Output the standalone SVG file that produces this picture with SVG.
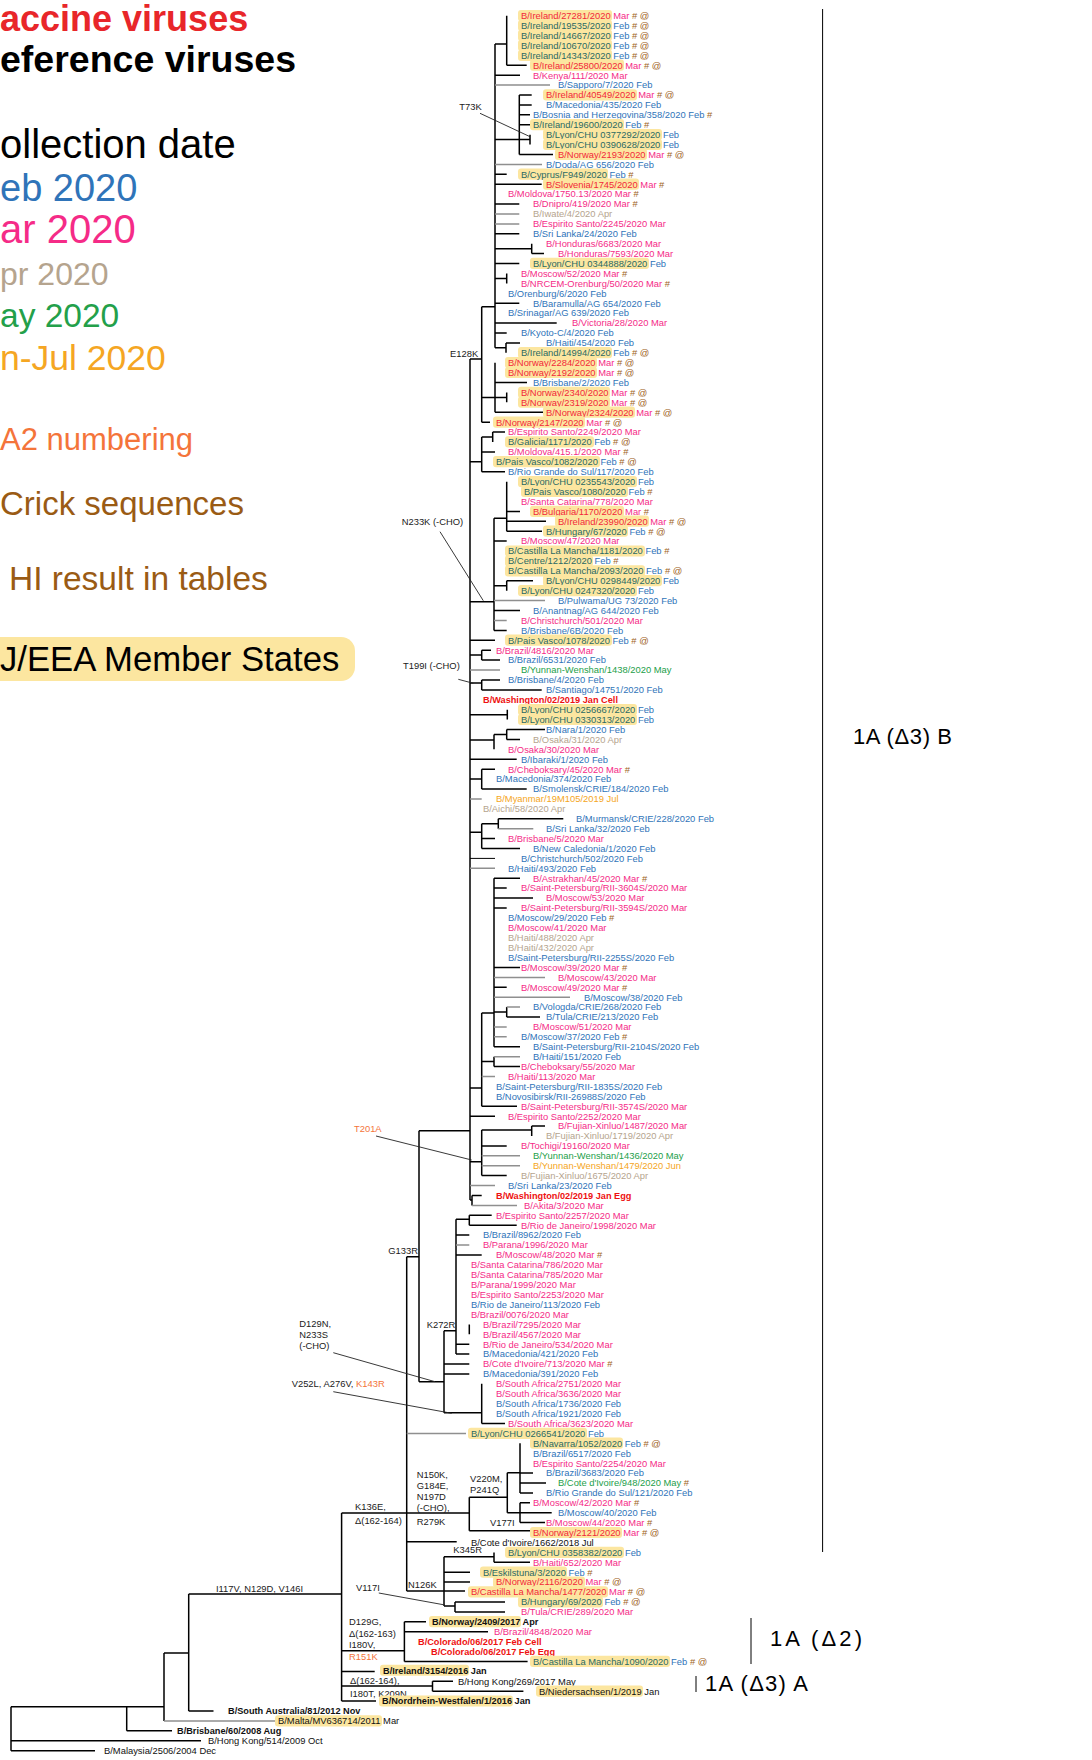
<svg xmlns="http://www.w3.org/2000/svg" width="1092" height="1760" viewBox="0 0 1092 1760">
<style>
text{font-family:"Liberation Sans",Arial,sans-serif}
.l{font-size:9.4px}
.b{font-size:9.2px;font-weight:bold}
.a{font-size:9.4px;fill:#1a1a1a}
.fe{fill:#2f74b9}.mr{fill:#f52b87}.ap{fill:#b5a48e}.my{fill:#23a04a}.jn{fill:#f5a623}
.hf{fill:#2b6a64}.hm{fill:#f2283a}.mk{fill:#a0621c}.rd{fill:#ee1111}.bk{fill:#111}
.or{fill:#f4743a}
.hl{fill:#fce6a0}
.k{fill:none;stroke:#000;stroke-width:1.5}
.g{fill:none;stroke:#8f8f8f;stroke-width:1.5}
.t{fill:none;stroke:#000;stroke-width:1}
.p{fill:none;stroke:#222;stroke-width:0.9}
.cl{font-size:22px;fill:#000}
</style>
<rect width="1092" height="1760" fill="#fff"/>
<g id="legend">
<text x="0" y="31" fill="#e8262a" font-weight="bold" font-size="36">accine viruses</text>
<text x="0" y="72" fill="#000" font-weight="bold" font-size="37.5">eference viruses</text>
<text x="0" y="158" fill="#000" font-size="40">ollection date</text>
<text x="0" y="201" fill="#2f74b9" font-size="38">eb 2020</text>
<text x="0" y="243" fill="#f52b87" font-size="40">ar 2020</text>
<text x="0" y="285" fill="#b5a48e" font-size="32">pr 2020</text>
<text x="0" y="327" fill="#23a04a" font-size="33.5">ay 2020</text>
<text x="0" y="370" fill="#f5a623" font-size="35.5">n-Jul 2020</text>
<text x="0" y="450" fill="#f4743a" font-size="31">A2 numbering</text>
<text x="0" y="515" fill="#9a5b14" font-size="33">Crick sequences</text>
<text x="9" y="590" fill="#9a5b14" font-size="33.5">HI result in tables</text>
<rect x="-14" y="637" width="369" height="44" rx="14" fill="#fce6a0"/>
<text x="0" y="671" fill="#000" font-size="34.7">J/EEA Member States</text>
</g>
<g id="clades">
<path class="t" d="M822.6 9V1552M751 1618V1664M696 1676V1692"/>
<text class="cl" x="853" y="744" textLength="99" lengthAdjust="spacing">1A (Δ3) B</text>
<text class="cl" x="770" y="1646" font-size="23" textLength="92" lengthAdjust="spacing">1A (Δ2)</text>
<text class="cl" x="705" y="1691" textLength="103" lengthAdjust="spacing">1A (Δ3) A</text>
</g>
<g id="connectors">
<path class="k" d="M506.7 15.7V65.3M506.7 65.3H526.7M495 44H506.7M495 44V347.8M495 75.2H520M519.3 95V154.5M495 139.6H530M519.3 95H531.7M519.3 104.9H531.7M519.3 114.8H530M519.3 124.8H530M530 134.7V144.6M519.3 154.5H553M495 174.3H506.7M495 184.2H541.7M495 204.1H519.3M495 233.8H519.3M495 248.7H531.7M531.7 243.7V253.6M531.7 253.6H544M495 263.5H519.3M495 278.4H506.7M506.7 273.5V283.4M495 303.2H519.3M495 323H556.7M495 332.9H506.7M495 347.8H506M506 342.9V352.8M506 342.9H520
M481.7 306.7V422.2M481.7 306.7H495M481.7 422.2H490M470 359H481.7
M495 362.7V412.3M481.7 397.4H506.7M495 382.5H527M506.7 392.4V402.3M495 412.3H543
M481.7 437V471.7M470 461.8H481.7M481.7 437H492.7M492.7 432.1V442M492.7 432.1H505M481.7 451.9H495M481.7 471.7H505
M494 518.3V630.4M470 601.7H494M494 518.3H506.7M506.7 481.7V531.2M506.7 511.4H520M506.7 521.3H546M506.7 531.2H542M494 541.1H506.7M494 585.7H506.7M506.7 580.8V590.7M506.7 580.8H533M494 610.5H520M494 630.4H506.7
M470 640.3H495M470 655H481.7M481.7 650.2V660.1M481.7 650.2H491M481.7 660.1H500
M470 683H481.7M481.7 679.9V689.9M481.7 679.9H500M481.7 689.9H541.7
M470 714.7H507.3M507.3 709.7V719.6
M470 740H494M494 734.5V749.3M494 734.5H506.7M506.7 729.5V739.4M506.7 729.5H545M506.7 739.4H520
M470 759.3H516.7M470 779.1H481.7M481.7 769.2V789M481.7 769.2H495M481.7 789H526.7
M470 832.3H481.7M481.7 823.7V848.5M481.7 823.7H498.3M498.3 818.7V828.7M498.3 818.7H563.3M481.7 838.6H495M481.7 848.5H520
M494 878.2V1046.8M494 878.2H520M494 888.1H506.7M494 898.1H533M494 908H506.7M494 967.4H520M494 987.3H506.7M494 1012H506.7M506.7 1007.1V1017M506.7 1017H540M494 1046.8H520
M481.7 1013V1106.2M481.7 1013H494M470 1088H481.7M481.7 1061.6H494M494 1056.7V1066.6M494 1066.6H520M481.7 1106.2H517
M470 1116.2H495M470 1161.7H481.7M481.7 1130V1175.6M481.7 1130H531.7M531.7 1126.1V1136M531.7 1126.1H545M481.7 1145.9H506.7M481.7 1175.6H506.7
M470 1200H472M472 1195.5V1205.4M472 1195.5H481.7
M470 359V1200M419 1130.7H470
M419 1130.7V1381.7M406.7 1256.7H419M444 1330.7V1412.7M419 1381.7H444M456 1219.3V1354.1M444 1330.7H456M456 1219.3H469.3M469.3 1215.3V1225.2M469.3 1215.3H491.7M469.3 1225.2H516.7M456 1235.1H469.3M456 1255H481.7M469.3 1324.4V1334.3M456 1344.2H469.3M456 1354.1H469.3M444 1364H469.3M444 1373.9H469.3M444 1412.7H481.7M481.7 1383.8V1423.5M481.7 1423.5H505
M406.7 1256.7V1591M341.6 1513H469.3M469.3 1497.3V1530.7M469.3 1497.3H507.3M507.3 1472.7V1512.7M507.3 1472.7H520M520 1443.3V1492.9M520 1473.1H533M520 1483H546M520 1492.9H533M507.3 1512.7H520M520 1502.8V1522.6M520 1502.8H530M520 1512.7H551.7M520 1522.6H545M469.3 1530.7H530M406.7 1541.7H456.7M406.7 1591H465M444 1556.7V1606M444 1556.7H494M494 1552.4V1562.3M494 1562.3H530M444 1572.2H470M444 1582.1H470M444 1606H455M455 1602V1611.9M455 1602H505M455 1611.9H505
M341.6 1513V1701.1M188.7 1594H341.6M341.6 1650.7H404.4M404.4 1621.8V1661.4M404.4 1621.8H426M404.4 1631.7H488M404.4 1661.4H527.6M341.6 1671.4H374.7M341.6 1686H432.5M432.5 1681.3V1691.2M432.5 1681.3H453M432.5 1691.2H523.4M341.6 1701.1H376
M188.7 1594V1711M164 1653H188.7M188.7 1711H213.5M164 1653V1720.9M126.7 1706.7V1730.8M126.7 1730.8H172M11 1706.7H164M11 1706.7V1750.7M11 1740.8H201M11 1750.7H95"/>
<path class="g" d="M495 85.1H550M495 164.4H542M495 214H519.3M495 223.9H519.3M494 600.6H545M494 620.5H506.7M470 670H500M470 798.9H481.7M498.3 828.7H533.3M470 868.3H495M494 977.4H545M494 997.2H570M506.7 1007.1H520M494 1026.9H506.7M494 1036.8H506.7M494 1056.7H520M481.7 1076.5H495M481.7 1155.8H520M481.7 1165.7H520M470 1185.6H495M472 1205.4H517M456 1245H469.3M406.7 1433.4H466M164 1720.9H275.5"/>
<path class="t" d="M470 858.4H495"/>
<path class="p" d="M480 113.3L530 136.7M440 531.7L483.3 600.7M458.3 679.3L473.3 683.3M376 1136L471.7 1160M333.3 1352.7L435 1381.7M333.3 1391.7L451.7 1413.3M378.8 1593L445 1605"/>
</g>
<g id="annotations">
<text class="a" x="459.3" y="110">T73K</text>
<text class="a" x="450" y="356.6">E128K</text>
<text class="a" x="401.7" y="525">N233K (-CHO)</text>
<text class="a" x="403" y="669.3">T199I (-CHO)</text>
<text class="a or" x="354" y="1131.6">T201A</text>
<text class="a" x="388.3" y="1254">G133R</text>
<text class="a" x="426.7" y="1328">K272R</text>
<text class="a" x="299.3" y="1326.6">D129N,</text>
<text class="a" x="299.3" y="1338.3">N233S</text>
<text class="a" x="299.3" y="1349.3">(-CHO)</text>
<text class="a" x="291.7" y="1386.6">V252L, A276V, <tspan class="or">K143R</tspan></text>
<text class="a" x="416.7" y="1478.3">N150K,</text>
<text class="a" x="416.7" y="1489.3">G184E,</text>
<text class="a" x="416.7" y="1500">N197D</text>
<text class="a" x="416.7" y="1511.3">(-CHO),</text>
<text class="a" x="416.7" y="1525">R279K</text>
<text class="a" x="470" y="1482.3">V220M,</text>
<text class="a" x="470" y="1493.3">P241Q</text>
<text class="a" x="490" y="1526">V177I</text>
<text class="a" x="453.3" y="1553.3">K345R</text>
<text class="a" x="408" y="1588">N126K</text>
<text class="a" x="356" y="1591">V117I</text>
<text class="a" x="216" y="1592">I117V, N129D, V146I</text>
<text class="a" x="355" y="1510">K136E,</text>
<text class="a" x="355" y="1524.3">Δ(162-164)</text>
<text class="a" x="349" y="1625.3">D129G,</text>
<text class="a" x="349" y="1637.3">Δ(162-163)</text>
<text class="a" x="349" y="1648">I180V,</text>
<text class="a or" x="349" y="1660.3">R151K</text>
<text class="a" x="350" y="1683.6">Δ(162-164),</text>
<text class="a" x="350" y="1696.5">I180T, K209N</text>
</g>
<g id="leaves">
<g id="n0"><rect class="hl" x="518" y="10" width="94" height="11.2" rx="3"/><text class="l" x="521" y="19"><tspan class="hm">B/Ireland/27281/2020</tspan><tspan class="mr"> Mar</tspan><tspan class="mk"> # @</tspan></text></g>
<g id="n1"><rect class="hl" x="518" y="19.9" width="94" height="11.2" rx="3"/><text class="l" x="521" y="28.9"><tspan class="hf">B/Ireland/19535/2020</tspan><tspan class="fe"> Feb</tspan><tspan class="mk"> # @</tspan></text></g>
<g id="n2"><rect class="hl" x="518" y="29.8" width="94" height="11.2" rx="3"/><text class="l" x="521" y="38.8"><tspan class="hf">B/Ireland/14667/2020</tspan><tspan class="fe"> Feb</tspan><tspan class="mk"> # @</tspan></text></g>
<g id="n3"><rect class="hl" x="518" y="39.7" width="94" height="11.2" rx="3"/><text class="l" x="521" y="48.7"><tspan class="hf">B/Ireland/10670/2020</tspan><tspan class="fe"> Feb</tspan><tspan class="mk"> # @</tspan></text></g>
<g id="n4"><rect class="hl" x="518" y="49.7" width="94" height="11.2" rx="3"/><text class="l" x="521" y="58.7"><tspan class="hf">B/Ireland/14343/2020</tspan><tspan class="fe"> Feb</tspan><tspan class="mk"> # @</tspan></text></g>
<g id="n5"><rect class="hl" x="530" y="59.6" width="94" height="11.2" rx="3"/><text class="l" x="533" y="68.6"><tspan class="hm">B/Ireland/25800/2020</tspan><tspan class="mr"> Mar</tspan><tspan class="mk"> # @</tspan></text></g>
<g id="n6"><text class="l mr" x="533" y="78.5">B/Kenya/111/2020 Mar</text></g>
<g id="n7"><text class="l fe" x="558" y="88.4">B/Sapporo/7/2020 Feb</text></g>
<g id="n8"><rect class="hl" x="543" y="89.3" width="94" height="11.2" rx="3"/><text class="l" x="546" y="98.3"><tspan class="hm">B/Ireland/40549/2020</tspan><tspan class="mr"> Mar</tspan><tspan class="mk"> # @</tspan></text></g>
<g id="n9"><text class="l fe" x="546" y="108.2">B/Macedonia/435/2020 Feb</text></g>
<g id="n10"><text class="l fe" x="533" y="118.1">B/Bosnia and Herzegovina/358/2020 Feb<tspan class="mk"> #</tspan></text></g>
<g id="n11"><rect class="hl" x="530" y="119.1" width="94" height="11.2" rx="3"/><text class="l" x="533" y="128.1"><tspan class="hf">B/Ireland/19600/2020</tspan><tspan class="fe"> Feb</tspan><tspan class="mk"> #</tspan></text></g>
<g id="n12"><rect class="hl" x="543" y="129" width="119" height="11.2" rx="3"/><text class="l" x="546" y="138"><tspan class="hf">B/Lyon/CHU 0377292/2020</tspan><tspan class="fe"> Feb</tspan></text></g>
<g id="n13"><rect class="hl" x="543" y="138.9" width="119" height="11.2" rx="3"/><text class="l" x="546" y="147.9"><tspan class="hf">B/Lyon/CHU 0390628/2020</tspan><tspan class="fe"> Feb</tspan></text></g>
<g id="n14"><rect class="hl" x="555" y="148.8" width="92" height="11.2" rx="3"/><text class="l" x="558" y="157.8"><tspan class="hm">B/Norway/2193/2020</tspan><tspan class="mr"> Mar</tspan><tspan class="mk"> # @</tspan></text></g>
<g id="n15"><text class="l fe" x="546" y="167.7">B/Doda/AG 656/2020 Feb</text></g>
<g id="n16"><rect class="hl" x="518" y="168.6" width="90" height="11.2" rx="3"/><text class="l" x="521" y="177.6"><tspan class="hf">B/Cyprus/F949/2020</tspan><tspan class="fe"> Feb</tspan><tspan class="mk"> #</tspan></text></g>
<g id="n17"><rect class="hl" x="543" y="178.5" width="96" height="11.2" rx="3"/><text class="l" x="546" y="187.5"><tspan class="hm">B/Slovenia/1745/2020</tspan><tspan class="mr"> Mar</tspan><tspan class="mk"> #</tspan></text></g>
<g id="n18"><text class="l mr" x="508" y="197.4">B/Moldova/1750.13/2020 Mar<tspan class="mk"> #</tspan></text></g>
<g id="n19"><text class="l mr" x="533" y="207.4">B/Dnipro/419/2020 Mar<tspan class="mk"> #</tspan></text></g>
<g id="n20"><text class="l ap" x="533" y="217.3">B/Iwate/4/2020 Apr</text></g>
<g id="n21"><text class="l mr" x="533" y="227.2">B/Espirito Santo/2245/2020 Mar</text></g>
<g id="n22"><text class="l fe" x="533" y="237.1">B/Sri Lanka/24/2020 Feb</text></g>
<g id="n23"><text class="l mr" x="546" y="247">B/Honduras/6683/2020 Mar</text></g>
<g id="n24"><text class="l mr" x="558" y="256.9">B/Honduras/7593/2020 Mar</text></g>
<g id="n25"><rect class="hl" x="530" y="257.8" width="119" height="11.2" rx="3"/><text class="l" x="533" y="266.8"><tspan class="hf">B/Lyon/CHU 0344888/2020</tspan><tspan class="fe"> Feb</tspan></text></g>
<g id="n26"><text class="l mr" x="521" y="276.8">B/Moscow/52/2020 Mar<tspan class="mk"> #</tspan></text></g>
<g id="n27"><text class="l mr" x="521" y="286.7">B/NRCEM-Orenburg/50/2020 Mar<tspan class="mk"> #</tspan></text></g>
<g id="n28"><text class="l fe" x="508" y="296.6">B/Orenburg/6/2020 Feb</text></g>
<g id="n29"><text class="l fe" x="533" y="306.5">B/Baramulla/AG 654/2020 Feb</text></g>
<g id="n30"><text class="l fe" x="508" y="316.4">B/Srinagar/AG 639/2020 Feb</text></g>
<g id="n31"><text class="l mr" x="572" y="326.3">B/Victoria/28/2020 Mar</text></g>
<g id="n32"><text class="l fe" x="521" y="336.2">B/Kyoto-C/4/2020 Feb</text></g>
<g id="n33"><text class="l fe" x="546" y="346.2">B/Haiti/454/2020 Feb</text></g>
<g id="n34"><rect class="hl" x="518" y="347.1" width="94" height="11.2" rx="3"/><text class="l" x="521" y="356.1"><tspan class="hf">B/Ireland/14994/2020</tspan><tspan class="fe"> Feb</tspan><tspan class="mk"> # @</tspan></text></g>
<g id="n35"><rect class="hl" x="505" y="357" width="92" height="11.2" rx="3"/><text class="l" x="508" y="366"><tspan class="hm">B/Norway/2284/2020</tspan><tspan class="mr"> Mar</tspan><tspan class="mk"> # @</tspan></text></g>
<g id="n36"><rect class="hl" x="505" y="366.9" width="92" height="11.2" rx="3"/><text class="l" x="508" y="375.9"><tspan class="hm">B/Norway/2192/2020</tspan><tspan class="mr"> Mar</tspan><tspan class="mk"> # @</tspan></text></g>
<g id="n37"><text class="l fe" x="533" y="385.8">B/Brisbane/2/2020 Feb</text></g>
<g id="n38"><rect class="hl" x="518" y="386.7" width="92" height="11.2" rx="3"/><text class="l" x="521" y="395.7"><tspan class="hm">B/Norway/2340/2020</tspan><tspan class="mr"> Mar</tspan><tspan class="mk"> # @</tspan></text></g>
<g id="n39"><rect class="hl" x="518" y="396.6" width="92" height="11.2" rx="3"/><text class="l" x="521" y="405.6"><tspan class="hm">B/Norway/2319/2020</tspan><tspan class="mr"> Mar</tspan><tspan class="mk"> # @</tspan></text></g>
<g id="n40"><rect class="hl" x="543" y="406.6" width="92" height="11.2" rx="3"/><text class="l" x="546" y="415.6"><tspan class="hm">B/Norway/2324/2020</tspan><tspan class="mr"> Mar</tspan><tspan class="mk"> # @</tspan></text></g>
<g id="n41"><rect class="hl" x="493" y="416.5" width="92" height="11.2" rx="3"/><text class="l" x="496" y="425.5"><tspan class="hm">B/Norway/2147/2020</tspan><tspan class="mr"> Mar</tspan><tspan class="mk"> # @</tspan></text></g>
<g id="n42"><text class="l mr" x="508" y="435.4">B/Espirito Santo/2249/2020 Mar</text></g>
<g id="n43"><rect class="hl" x="505" y="436.3" width="89" height="11.2" rx="3"/><text class="l" x="508" y="445.3"><tspan class="hf">B/Galicia/1171/2020</tspan><tspan class="fe"> Feb</tspan><tspan class="mk"> # @</tspan></text></g>
<g id="n44"><text class="l mr" x="508" y="455.2">B/Moldova/415.1/2020 Mar<tspan class="mk"> #</tspan></text></g>
<g id="n45"><rect class="hl" x="493" y="456.1" width="107" height="11.2" rx="3"/><text class="l" x="496" y="465.1"><tspan class="hf">B/Pais Vasco/1082/2020</tspan><tspan class="fe"> Feb</tspan><tspan class="mk"> # @</tspan></text></g>
<g id="n46"><text class="l fe" x="508" y="475">B/Rio Grande do Sul/117/2020 Feb</text></g>
<g id="n47"><rect class="hl" x="518" y="476" width="119" height="11.2" rx="3"/><text class="l" x="521" y="485"><tspan class="hf">B/Lyon/CHU 0235543/2020</tspan><tspan class="fe"> Feb</tspan></text></g>
<g id="n48"><rect class="hl" x="521" y="485.9" width="107" height="11.2" rx="3"/><text class="l" x="524" y="494.9"><tspan class="hf">B/Pais Vasco/1080/2020</tspan><tspan class="fe"> Feb</tspan><tspan class="mk"> #</tspan></text></g>
<g id="n49"><text class="l mr" x="521" y="504.8">B/Santa Catarina/778/2020 Mar</text></g>
<g id="n50"><rect class="hl" x="530" y="505.7" width="94" height="11.2" rx="3"/><text class="l" x="533" y="514.7"><tspan class="hm">B/Bulgaria/1170/2020</tspan><tspan class="mr"> Mar</tspan><tspan class="mk"> #</tspan></text></g>
<g id="n51"><rect class="hl" x="555" y="515.6" width="94" height="11.2" rx="3"/><text class="l" x="558" y="524.6"><tspan class="hm">B/Ireland/23990/2020</tspan><tspan class="mr"> Mar</tspan><tspan class="mk"> # @</tspan></text></g>
<g id="n52"><rect class="hl" x="543" y="525.5" width="85" height="11.2" rx="3"/><text class="l" x="546" y="534.5"><tspan class="hf">B/Hungary/67/2020</tspan><tspan class="fe"> Feb</tspan><tspan class="mk"> # @</tspan></text></g>
<g id="n53"><text class="l mr" x="521" y="544.4">B/Moscow/47/2020 Mar</text></g>
<g id="n54"><rect class="hl" x="505" y="545.4" width="140" height="11.2" rx="3"/><text class="l" x="508" y="554.4"><tspan class="hf">B/Castilla La Mancha/1181/2020</tspan><tspan class="fe"> Feb</tspan><tspan class="mk"> #</tspan></text></g>
<g id="n55"><rect class="hl" x="505" y="555.3" width="88" height="11.2" rx="3"/><text class="l" x="508" y="564.3"><tspan class="hf">B/Centre/1212/2020</tspan><tspan class="fe"> Feb</tspan><tspan class="mk"> #</tspan></text></g>
<g id="n56"><rect class="hl" x="505" y="565.2" width="140" height="11.2" rx="3"/><text class="l" x="508" y="574.2"><tspan class="hf">B/Castilla La Mancha/2093/2020</tspan><tspan class="fe"> Feb</tspan><tspan class="mk"> # @</tspan></text></g>
<g id="n57"><rect class="hl" x="543" y="575.1" width="119" height="11.2" rx="3"/><text class="l" x="546" y="584.1"><tspan class="hf">B/Lyon/CHU 0298449/2020</tspan><tspan class="fe"> Feb</tspan></text></g>
<g id="n58"><rect class="hl" x="518" y="585" width="119" height="11.2" rx="3"/><text class="l" x="521" y="594"><tspan class="hf">B/Lyon/CHU 0247320/2020</tspan><tspan class="fe"> Feb</tspan></text></g>
<g id="n59"><text class="l fe" x="558" y="603.9">B/Pulwama/UG 73/2020 Feb</text></g>
<g id="n60"><text class="l fe" x="533" y="613.8">B/Anantnag/AG 644/2020 Feb</text></g>
<g id="n61"><text class="l mr" x="521" y="623.8">B/Christchurch/501/2020 Mar</text></g>
<g id="n62"><text class="l fe" x="521" y="633.7">B/Brisbane/6B/2020 Feb</text></g>
<g id="n63"><rect class="hl" x="505" y="634.6" width="107" height="11.2" rx="3"/><text class="l" x="508" y="643.6"><tspan class="hf">B/Pais Vasco/1078/2020</tspan><tspan class="fe"> Feb</tspan><tspan class="mk"> # @</tspan></text></g>
<g id="n64"><text class="l mr" x="496" y="653.5">B/Brazil/4816/2020 Mar</text></g>
<g id="n65"><text class="l fe" x="508" y="663.4">B/Brazil/6531/2020 Feb</text></g>
<g id="n66"><text class="l my" x="521" y="673.3">B/Yunnan-Wenshan/1438/2020 May</text></g>
<g id="n67"><text class="l fe" x="508" y="683.2">B/Brisbane/4/2020 Feb</text></g>
<g id="n68"><text class="l fe" x="546" y="693.2">B/Santiago/14751/2020 Feb</text></g>
<g id="n69"><text class="b rd" x="483" y="703.1">B/Washington/02/2019 Jan Cell</text></g>
<g id="n70"><rect class="hl" x="518" y="704" width="119" height="11.2" rx="3"/><text class="l" x="521" y="713"><tspan class="hf">B/Lyon/CHU 0256667/2020</tspan><tspan class="fe"> Feb</tspan></text></g>
<g id="n71"><rect class="hl" x="518" y="713.9" width="119" height="11.2" rx="3"/><text class="l" x="521" y="722.9"><tspan class="hf">B/Lyon/CHU 0330313/2020</tspan><tspan class="fe"> Feb</tspan></text></g>
<g id="n72"><text class="l fe" x="546" y="732.8">B/Nara/1/2020 Feb</text></g>
<g id="n73"><text class="l ap" x="533" y="742.7">B/Osaka/31/2020 Apr</text></g>
<g id="n74"><text class="l mr" x="508" y="752.6">B/Osaka/30/2020 Mar</text></g>
<g id="n75"><text class="l fe" x="521" y="762.6">B/Ibaraki/1/2020 Feb</text></g>
<g id="n76"><text class="l mr" x="508" y="772.5">B/Cheboksary/45/2020 Mar<tspan class="mk"> #</tspan></text></g>
<g id="n77"><text class="l fe" x="496" y="782.4">B/Macedonia/374/2020 Feb</text></g>
<g id="n78"><text class="l fe" x="533" y="792.3">B/Smolensk/CRIE/184/2020 Feb</text></g>
<g id="n79"><text class="l jn" x="496" y="802.2">B/Myanmar/19M105/2019 Jul</text></g>
<g id="n80"><text class="l ap" x="483" y="812.1">B/Aichi/58/2020 Apr</text></g>
<g id="n81"><text class="l fe" x="576" y="822">B/Murmansk/CRIE/228/2020 Feb</text></g>
<g id="n82"><text class="l fe" x="546" y="832">B/Sri Lanka/32/2020 Feb</text></g>
<g id="n83"><text class="l mr" x="508" y="841.9">B/Brisbane/5/2020 Mar</text></g>
<g id="n84"><text class="l fe" x="533" y="851.8">B/New Caledonia/1/2020 Feb</text></g>
<g id="n85"><text class="l fe" x="521" y="861.7">B/Christchurch/502/2020 Feb</text></g>
<g id="n86"><text class="l fe" x="508" y="871.6">B/Haiti/493/2020 Feb</text></g>
<g id="n87"><text class="l mr" x="533" y="881.5">B/Astrakhan/45/2020 Mar<tspan class="mk"> #</tspan></text></g>
<g id="n88"><text class="l mr" x="521" y="891.4">B/Saint-Petersburg/RII-3604S/2020 Mar</text></g>
<g id="n89"><text class="l mr" x="546" y="901.4">B/Moscow/53/2020 Mar</text></g>
<g id="n90"><text class="l mr" x="521" y="911.3">B/Saint-Petersburg/RII-3594S/2020 Mar</text></g>
<g id="n91"><text class="l fe" x="508" y="921.2">B/Moscow/29/2020 Feb<tspan class="mk"> #</tspan></text></g>
<g id="n92"><text class="l mr" x="508" y="931.1">B/Moscow/41/2020 Mar</text></g>
<g id="n93"><text class="l ap" x="508" y="941">B/Haiti/488/2020 Apr</text></g>
<g id="n94"><text class="l ap" x="508" y="950.9">B/Haiti/432/2020 Apr</text></g>
<g id="n95"><text class="l fe" x="508" y="960.8">B/Saint-Petersburg/RII-2255S/2020 Feb</text></g>
<g id="n96"><text class="l mr" x="521" y="970.7">B/Moscow/39/2020 Mar<tspan class="mk"> #</tspan></text></g>
<g id="n97"><text class="l mr" x="558" y="980.7">B/Moscow/43/2020 Mar</text></g>
<g id="n98"><text class="l mr" x="521" y="990.6">B/Moscow/49/2020 Mar<tspan class="mk"> #</tspan></text></g>
<g id="n99"><text class="l fe" x="584" y="1000.5">B/Moscow/38/2020 Feb</text></g>
<g id="n100"><text class="l fe" x="533" y="1010.4">B/Vologda/CRIE/268/2020 Feb</text></g>
<g id="n101"><text class="l fe" x="546" y="1020.3">B/Tula/CRIE/213/2020 Feb</text></g>
<g id="n102"><text class="l mr" x="533" y="1030.2">B/Moscow/51/2020 Mar</text></g>
<g id="n103"><text class="l fe" x="521" y="1040.1">B/Moscow/37/2020 Feb<tspan class="mk"> #</tspan></text></g>
<g id="n104"><text class="l fe" x="533" y="1050.1">B/Saint-Petersburg/RII-2104S/2020 Feb</text></g>
<g id="n105"><text class="l fe" x="533" y="1060">B/Haiti/151/2020 Feb</text></g>
<g id="n106"><text class="l mr" x="521" y="1069.9">B/Cheboksary/55/2020 Mar</text></g>
<g id="n107"><text class="l mr" x="508" y="1079.8">B/Haiti/113/2020 Mar</text></g>
<g id="n108"><text class="l fe" x="496" y="1089.7">B/Saint-Petersburg/RII-1835S/2020 Feb</text></g>
<g id="n109"><text class="l fe" x="496" y="1099.6">B/Novosibirsk/RII-26988S/2020 Feb</text></g>
<g id="n110"><text class="l mr" x="521" y="1109.5">B/Saint-Petersburg/RII-3574S/2020 Mar</text></g>
<g id="n111"><text class="l mr" x="508" y="1119.5">B/Espirito Santo/2252/2020 Mar</text></g>
<g id="n112"><text class="l mr" x="558" y="1129.4">B/Fujian-Xinluo/1487/2020 Mar</text></g>
<g id="n113"><text class="l ap" x="546" y="1139.3">B/Fujian-Xinluo/1719/2020 Apr</text></g>
<g id="n114"><text class="l mr" x="521" y="1149.2">B/Tochigi/19160/2020 Mar</text></g>
<g id="n115"><text class="l my" x="533" y="1159.1">B/Yunnan-Wenshan/1436/2020 May</text></g>
<g id="n116"><text class="l jn" x="533" y="1169">B/Yunnan-Wenshan/1479/2020 Jun</text></g>
<g id="n117"><text class="l ap" x="521" y="1178.9">B/Fujian-Xinluo/1675/2020 Apr</text></g>
<g id="n118"><text class="l fe" x="508" y="1188.9">B/Sri Lanka/23/2020 Feb</text></g>
<g id="n119"><text class="b rd" x="496" y="1198.8">B/Washington/02/2019 Jan Egg</text></g>
<g id="n120"><text class="l mr" x="524" y="1208.7">B/Akita/3/2020 Mar</text></g>
<g id="n121"><text class="l mr" x="496" y="1218.6">B/Espirito Santo/2257/2020 Mar</text></g>
<g id="n122"><text class="l mr" x="521" y="1228.5">B/Rio de Janeiro/1998/2020 Mar</text></g>
<g id="n123"><text class="l fe" x="483" y="1238.4">B/Brazil/8962/2020 Feb</text></g>
<g id="n124"><text class="l mr" x="483" y="1248.3">B/Parana/1996/2020 Mar</text></g>
<g id="n125"><text class="l mr" x="496" y="1258.3">B/Moscow/48/2020 Mar<tspan class="mk"> #</tspan></text></g>
<g id="n126"><text class="l mr" x="471" y="1268.2">B/Santa Catarina/786/2020 Mar</text></g>
<g id="n127"><text class="l mr" x="471" y="1278.1">B/Santa Catarina/785/2020 Mar</text></g>
<g id="n128"><text class="l mr" x="471" y="1288">B/Parana/1999/2020 Mar</text></g>
<g id="n129"><text class="l mr" x="471" y="1297.9">B/Espirito Santo/2253/2020 Mar</text></g>
<g id="n130"><text class="l fe" x="471" y="1307.8">B/Rio de Janeiro/113/2020 Feb</text></g>
<g id="n131"><text class="l mr" x="471" y="1317.7">B/Brazil/0076/2020 Mar</text></g>
<g id="n132"><text class="l mr" x="483" y="1327.7">B/Brazil/7295/2020 Mar</text></g>
<g id="n133"><text class="l mr" x="483" y="1337.6">B/Brazil/4567/2020 Mar</text></g>
<g id="n134"><text class="l mr" x="483" y="1347.5">B/Rio de Janeiro/534/2020 Mar</text></g>
<g id="n135"><text class="l fe" x="483" y="1357.4">B/Macedonia/421/2020 Feb</text></g>
<g id="n136"><text class="l mr" x="483" y="1367.3">B/Cote d'Ivoire/713/2020 Mar<tspan class="mk"> #</tspan></text></g>
<g id="n137"><text class="l fe" x="483" y="1377.2">B/Macedonia/391/2020 Feb</text></g>
<g id="n138"><text class="l mr" x="496" y="1387.1">B/South Africa/2751/2020 Mar</text></g>
<g id="n139"><text class="l mr" x="496" y="1397.1">B/South Africa/3636/2020 Mar</text></g>
<g id="n140"><text class="l fe" x="496" y="1407">B/South Africa/1736/2020 Feb</text></g>
<g id="n141"><text class="l fe" x="496" y="1416.9">B/South Africa/1921/2020 Feb</text></g>
<g id="n142"><text class="l mr" x="508" y="1426.8">B/South Africa/3623/2020 Mar</text></g>
<g id="n143"><rect class="hl" x="468" y="1427.7" width="119" height="11.2" rx="3"/><text class="l" x="471" y="1436.7"><tspan class="hf">B/Lyon/CHU 0266541/2020</tspan><tspan class="fe"> Feb</tspan></text></g>
<g id="n144"><rect class="hl" x="530" y="1437.6" width="93" height="11.2" rx="3"/><text class="l" x="533" y="1446.6"><tspan class="hf">B/Navarra/1052/2020</tspan><tspan class="fe"> Feb</tspan><tspan class="mk"> # @</tspan></text></g>
<g id="n145"><text class="l fe" x="533" y="1456.5">B/Brazil/6517/2020 Feb</text></g>
<g id="n146"><text class="l mr" x="533" y="1466.5">B/Espirito Santo/2254/2020 Mar</text></g>
<g id="n147"><text class="l fe" x="546" y="1476.4">B/Brazil/3683/2020 Feb</text></g>
<g id="n148"><text class="l my" x="558" y="1486.3">B/Cote d'Ivoire/948/2020 May<tspan class="mk"> #</tspan></text></g>
<g id="n149"><text class="l fe" x="546" y="1496.2">B/Rio Grande do Sul/121/2020 Feb</text></g>
<g id="n150"><text class="l mr" x="533" y="1506.1">B/Moscow/42/2020 Mar<tspan class="mk"> #</tspan></text></g>
<g id="n151"><text class="l fe" x="558" y="1516">B/Moscow/40/2020 Feb</text></g>
<g id="n152"><text class="l mr" x="546" y="1525.9">B/Moscow/44/2020 Mar<tspan class="mk"> #</tspan></text></g>
<g id="n153"><rect class="hl" x="530" y="1526.9" width="92" height="11.2" rx="3"/><text class="l" x="533" y="1535.9"><tspan class="hm">B/Norway/2121/2020</tspan><tspan class="mr"> Mar</tspan><tspan class="mk"> # @</tspan></text></g>
<g id="n154"><text class="l bk" x="471" y="1545.8">B/Cote d'Ivoire/1662/2018 Jul</text></g>
<g id="n155"><rect class="hl" x="505" y="1546.7" width="119" height="11.2" rx="3"/><text class="l" x="508" y="1555.7"><tspan class="hf">B/Lyon/CHU 0358382/2020</tspan><tspan class="fe"> Feb</tspan></text></g>
<g id="n156"><text class="l mr" x="533" y="1565.6">B/Haiti/652/2020 Mar</text></g>
<g id="n157"><rect class="hl" x="480" y="1566.5" width="87" height="11.2" rx="3"/><text class="l" x="483" y="1575.5"><tspan class="hf">B/Eskilstuna/3/2020</tspan><tspan class="fe"> Feb</tspan><tspan class="mk"> #</tspan></text></g>
<g id="n158"><rect class="hl" x="493" y="1576.4" width="92" height="11.2" rx="3"/><text class="l" x="496" y="1585.4"><tspan class="hm">B/Norway/2116/2020</tspan><tspan class="mr"> Mar</tspan><tspan class="mk"> # @</tspan></text></g>
<g id="n159"><rect class="hl" x="468" y="1586.3" width="140" height="11.2" rx="3"/><text class="l" x="471" y="1595.3"><tspan class="hm">B/Castilla La Mancha/1477/2020</tspan><tspan class="mr"> Mar</tspan><tspan class="mk"> # @</tspan></text></g>
<g id="n160"><rect class="hl" x="518" y="1596.3" width="85" height="11.2" rx="3"/><text class="l" x="521" y="1605.3"><tspan class="hf">B/Hungary/69/2020</tspan><tspan class="fe"> Feb</tspan><tspan class="mk"> # @</tspan></text></g>
<g id="n161"><text class="l mr" x="521" y="1615.2">B/Tula/CRIE/289/2020 Mar</text></g>
<g id="n162"><rect class="hl" x="429" y="1616.1" width="92" height="11.2" rx="3"/><text class="b bk" x="432" y="1625.1">B/Norway/2409/2017 Apr</text></g>
<g id="n163"><text class="l mr" x="494" y="1635">B/Brazil/4848/2020 Mar</text></g>
<g id="n164"><text class="b rd" x="418" y="1644.9">B/Colorado/06/2017 Feb Cell</text></g>
<g id="n165"><text class="b rd" x="431" y="1654.8">B/Colorado/06/2017 Feb Egg</text></g>
<g id="n166"><rect class="hl" x="530" y="1655.7" width="140" height="11.2" rx="3"/><text class="l" x="533" y="1664.7"><tspan class="hf">B/Castilla La Mancha/1090/2020</tspan><tspan class="fe"> Feb</tspan><tspan class="mk"> # @</tspan></text></g>
<g id="n167"><rect class="hl" x="380" y="1664.7" width="89" height="11" rx="3"/><text class="b bk" x="383" y="1673.7">B/Ireland/3154/2016 Jan</text></g>
<g id="n168"><text class="l bk" x="458" y="1684.6">B/Hong Kong/269/2017 May</text></g>
<g id="n169"><rect class="hl" x="536" y="1685.5" width="107" height="11.2" rx="3"/><text class="l bk" x="539" y="1694.5">B/Niedersachsen/1/2019 Jan</text></g>
<g id="n170"><rect class="hl" x="379" y="1695.4" width="134" height="11.2" rx="3"/><text class="b bk" x="382" y="1704.4">B/Nordrhein-Westfalen/1/2016 Jan</text></g>
<g id="n171"><text class="b bk" x="228" y="1714.3">B/South Australia/81/2012 Nov</text></g>
<g id="n172"><rect class="hl" x="275" y="1715.2" width="107" height="11.2" rx="3"/><text class="l bk" x="278" y="1724.2">B/Malta/MV636714/2011 Mar</text></g>
<g id="n173"><text class="b bk" x="177" y="1734.1">B/Brisbane/60/2008 Aug</text></g>
<g id="n174"><text class="l bk" x="208" y="1744.1">B/Hong Kong/514/2009 Oct</text></g>
<g id="n175"><text class="l bk" x="104" y="1754">B/Malaysia/2506/2004 Dec</text></g>
</g>
</svg>
